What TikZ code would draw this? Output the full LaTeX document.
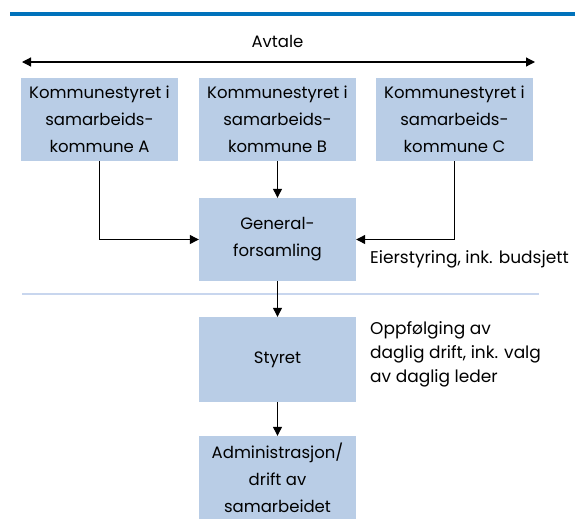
\documentclass[tikz,border=0pt]{standalone}
\usepackage{fontspec}
\setmainfont{Poppins}
\usetikzlibrary{arrows.meta}
\definecolor{boxblue}{RGB}{185,205,230}
\definecolor{headblue}{RGB}{0,114,187}
\definecolor{lineblue}{RGB}{200,214,238}

\begin{document}
\begin{tikzpicture}[x=1pt,y=-1pt,
        box/.style={fill=boxblue, minimum width=157pt, minimum height=83pt,
            inner sep=0pt, align=center, font=\fontsize{16.5}{27}\selectfont},
        sidetext/.style={inner sep=0pt, align=left, font=\fontsize{17}{24}\selectfont},
        arr/.style={-{Triangle[length=9pt,width=9pt]}, line width=1.2pt},
    ]
    \useasboundingbox (0,0) rectangle (575,525);

    % heading rule
    \coordinate (hl) at (10,14);
    \coordinate (hr) at (575,14);
    \draw[headblue, line width=4pt] (hl) -- (hr);

    % agreement
    \node[font=\fontsize{16.5}{18}\selectfont] (avt) at (277.5,41) {Avtale};
    \coordinate (avl) at (22,62);
    \coordinate (avr) at (535,62);
    \draw[arr, {Triangle[length=9pt,width=9pt]}-{Triangle[length=9pt,width=9pt]}] (avl) -- (avr);

    \node[box] (kA) at (99.5,119.5) {Kommunestyret i\\samarbeids-\\kommune A};
    \node[box] (kB) at (277.5,119.5) {Kommunestyret i\\samarbeids-\\kommune B};
    \node[box] (kC) at (454.5,119.5) {Kommunestyret i\\samarbeids-\\kommune C};

    \node[box] (gf) at (277.5,239.5) {General-\\forsamling};
    \node[box, minimum height=85pt] (st) at (277.5,359.5) {Styret};
    \node[box] (adm) at (277.5,477.5) {Administrasjon/\\drift av\\samarbeidet};

    \node[sidetext, anchor=base west] (eier) at (370,263) {Eierstyring, ink. budsjett};
    \node[sidetext, anchor=north west] (oppf) at (370,321) {Oppfølging av\\daglig drift, ink. valg\\av daglig leder};

    % separator
    \coordinate (sl) at (22,294);
    \coordinate (sr) at (539,294);
    \draw[lineblue, line width=1.5pt] (sl) -- (sr);

    \draw[arr] (kA.south) |- (gf.west);
    \draw[arr] (kB) -- (gf);
    \draw[arr] (kC.south) |- (gf.east);
    \draw[arr] (gf) -- (st);
    \draw[arr] (st) -- (adm);
\end{tikzpicture}
\end{document}
